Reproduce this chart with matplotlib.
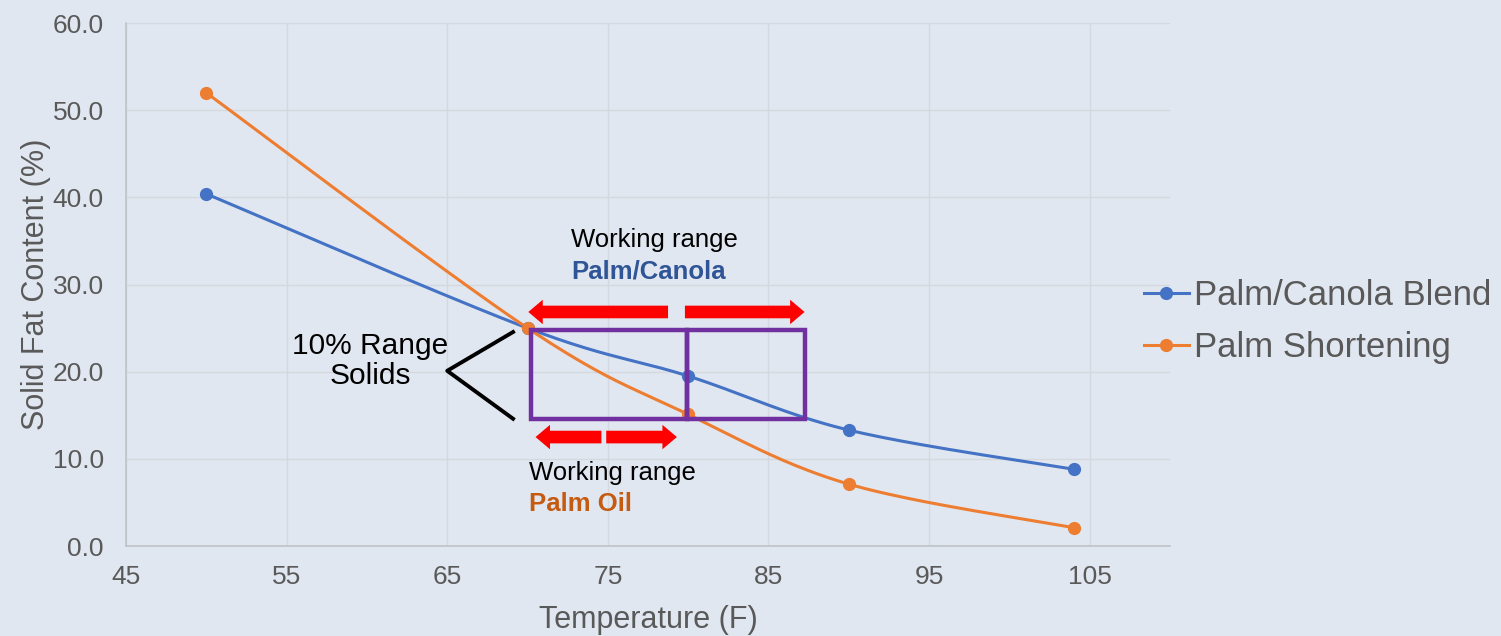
import matplotlib.pyplot as plt
import matplotlib.patches as patches
import numpy as np

plt.rcParams['font.family'] = ['Liberation Sans', 'DejaVu Sans']

temps = [50, 70, 80, 90, 104]
palm_canola = [40.4, 25.0, 19.5, 13.3, 8.8]
palm_short = [52.0, 25.0, 15.1, 7.1, 2.1]
series_names = ['Palm/Canola Blend', 'Palm Shortening']
xticks = [45, 55, 65, 75, 85, 95, 105]
yticks = [0, 10, 20, 30, 40, 50, 60]

bg = '#E1E7F0'
gray = '#595959'
blue = '#4472C4'
orange = '#ED7D31'
purple = '#7030A0'
red = '#FF0000'


def smooth(xs, ys, n=40):
    # excel-ish smoothed line: catmull-rom turned into bezier segments
    xs = np.asarray(xs, float)
    ys = np.asarray(ys, float)
    px = np.concatenate([[xs[0]], xs, [xs[-1]]])
    py = np.concatenate([[ys[0]], ys, [ys[-1]]])
    outx, outy = [], []
    t = np.linspace(0, 1, n)
    for i in range(1, len(px) - 2):
        p0 = np.array([px[i], py[i]])
        p3 = np.array([px[i + 1], py[i + 1]])
        c1 = p0 + (np.array([px[i + 1], py[i + 1]]) - np.array([px[i - 1], py[i - 1]])) / 6
        c2 = p3 - (np.array([px[i + 2], py[i + 2]]) - np.array([px[i], py[i]])) / 6
        b = ((1 - t) ** 3)[:, None] * p0 + (3 * (1 - t) ** 2 * t)[:, None] * c1 \
            + (3 * (1 - t) * t ** 2)[:, None] * c2 + (t ** 3)[:, None] * p3
        outx.extend(b[:, 0])
        outy.extend(b[:, 1])
    return outx, outy


fig = plt.figure(figsize=(15.01, 6.36), dpi=100)
fig.patch.set_facecolor(bg)
ax = fig.add_axes([0.0839, 0.1415, 0.6956, 0.8223])
ax.set_facecolor(bg)

for ys, c, name in [(palm_canola, blue, series_names[0]), (palm_short, orange, series_names[1])]:
    sx, sy = smooth(temps, ys)
    ax.plot(sx, sy, color=c, lw=2.2, zorder=3)
    ax.plot(temps, ys, 'o', color=c, ms=8.5, zorder=4)
    ax.plot([], [], '-o', color=c, lw=2.2, ms=8.5, label=name)

ax.set_xlim(45, 110)
ax.set_ylim(0, 60)
ax.set_xticks(xticks)
ax.set_yticks(yticks)
ax.set_yticklabels(['%.1f' % v for v in yticks])
ax.grid(True, color='#D5D9DF', lw=1)
ax.set_axisbelow(True)
for s in ['top', 'right']:
    ax.spines[s].set_visible(False)
for s in ['left', 'bottom']:
    ax.spines[s].set_color('#BFC3C8')
    ax.spines[s].set_linewidth(1.2)
ax.tick_params(length=0, labelsize=19, colors=gray)
ax.tick_params(axis='y', pad=16)
ax.tick_params(axis='x', pad=14)
ax.set_xlabel('Temperature (F)', fontsize=22, color=gray, labelpad=11)
ax.set_ylabel('Solid Fat Content (%)', fontsize=22, color=gray, labelpad=1)

# working range boxes
ax.add_patch(patches.Rectangle((70.2, 14.6), 79.9 - 70.2, 24.8 - 14.6, fill=False,
                               ec=purple, lw=3.2, zorder=5))
ax.add_patch(patches.Rectangle((79.9, 14.6), 87.25 - 79.9, 24.8 - 14.6, fill=False,
                               ec=purple, lw=3.2, zorder=5))

# red arrows (tail x, tip x, y)
arrows = [(78.75, 70.05, 26.85), (79.8, 87.25, 26.85), (74.6, 70.5, 12.5), (74.9, 79.3, 12.5)]
for x0, x1, y in arrows:
    d = x1 - x0
    ax.add_patch(patches.FancyArrow(x0, y, d, 0, width=1.45, head_width=2.8, head_length=0.9,
                                    length_includes_head=True, color=red, lw=0, zorder=6))

# bracket
ax.plot([69.1, 65.0, 69.1], [24.55, 20.1, 14.6], color='black', lw=2.8, zorder=5)

ax.text(60.2, 21.2, '10% Range\nSolids', fontsize=21.5, ha='center', va='center',
        linespacing=1.1, color='black')
ax.text(72.7, 35.1, 'Working range', fontsize=18.5, ha='left', va='center', color='black')
ax.text(72.7, 31.5, 'Palm/Canola', fontsize=18.5, ha='left', va='center', color='#2F5597',
        fontweight='bold')
ax.text(70.1, 8.4, 'Working range', fontsize=18.5, ha='left', va='center', color='black')
ax.text(70.1, 4.8, 'Palm Oil', fontsize=18.5, ha='left', va='center', color='#C55A11',
        fontweight='bold')

fig.legend(loc='center left', bbox_to_anchor=(0.762, 0.4945), frameon=False, fontsize=25,
           handlelength=1.3, handletextpad=0.14, labelspacing=0.56, borderpad=0,
           borderaxespad=0, labelcolor=gray)

fig.savefig('out.png', dpi=100, facecolor=bg)
